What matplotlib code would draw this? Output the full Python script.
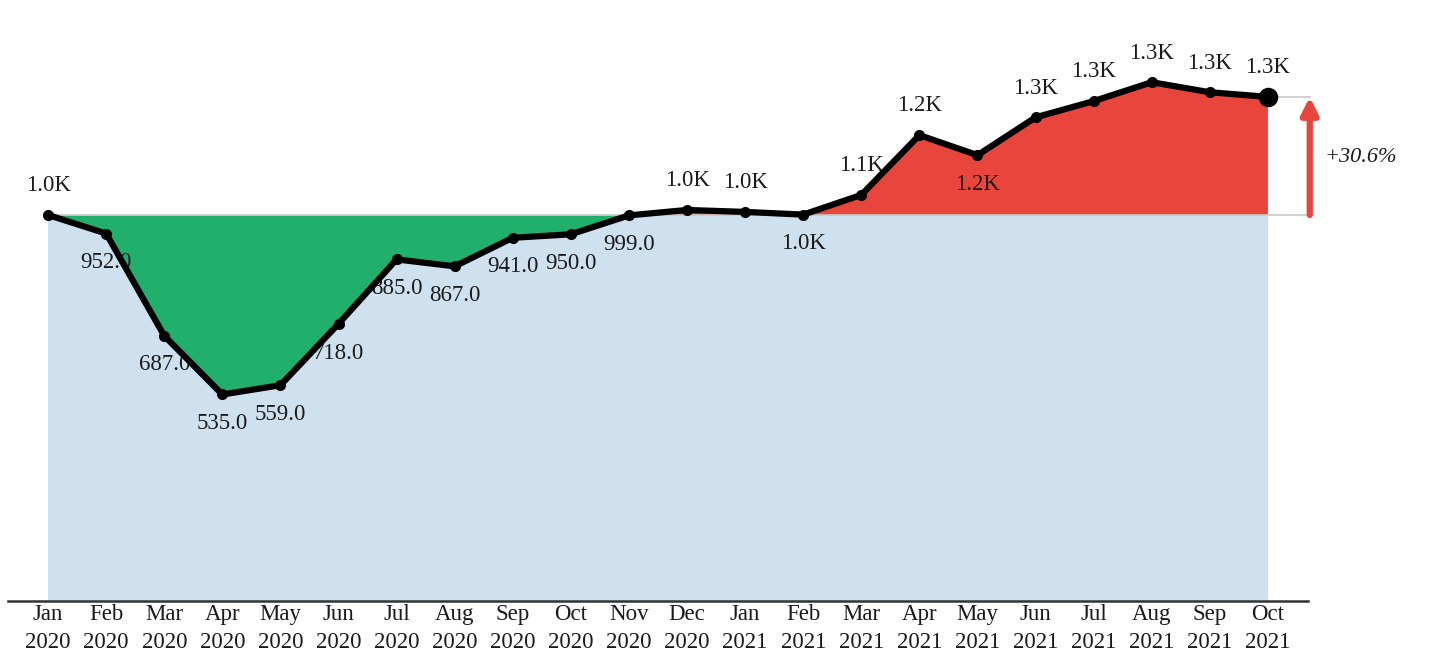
import matplotlib.pyplot as plt
import numpy as np

plt.rcParams['font.family'] = ['Liberation Serif', 'DejaVu Serif']

months = ["Jan", "Feb", "Mar", "Apr", "May", "Jun", "Jul", "Aug", "Sep", "Oct", "Nov", "Dec",
          "Jan", "Feb", "Mar", "Apr", "May", "Jun", "Jul", "Aug", "Sep", "Oct"]
years = ["2020"] * 12 + ["2021"] * 10
values = [1000, 952, 687, 535, 559, 718, 885, 867, 941, 950, 999, 1013,
          1008, 1001, 1052, 1207, 1155, 1253, 1295, 1344, 1318, 1306]
baseline = values[0]

# which labels sit under their point
label_below = {1, 2, 3, 4, 5, 6, 7, 8, 9, 10, 13, 16}


def fmt(v):
    if v >= 1000:
        return f"{v / 1000:.1f}K"
    return f"{v:.1f}"


x = np.arange(len(values))
y = np.array(values, dtype=float)

fig = plt.figure(figsize=(14.32, 6.55), dpi=100)
ax = fig.add_axes([8 / 1432, 1 - 601 / 655, 1300 / 1432, 601 / 655])

ax.fill_between(x, 0, baseline, color="#cfe0ee", lw=0, zorder=1)
ax.fill_between(x, y, baseline, where=y <= baseline, interpolate=True, color="#21b06c", lw=0, zorder=2)
ax.fill_between(x, y, baseline, where=y >= baseline, interpolate=True, color="#e8463c", lw=0, zorder=2)
ax.plot([0, 21.72], [baseline, baseline], color="#c8c8c8", lw=1.2, zorder=2.5, clip_on=False)

for i, v in enumerate(values):
    if i in label_below:
        ax.annotate(fmt(v), (i, v), xytext=(0, -21), textcoords="offset points",
                    ha="center", va="center", fontsize=16.5, color="#1a1a1a", zorder=3)
    else:
        ax.annotate(fmt(v), (i, v), xytext=(0, 21), textcoords="offset points",
                    ha="center", va="center", fontsize=16.5, color="#1a1a1a", zorder=3)

ax.plot(x, y, color="black", lw=4.5, marker="o", ms=7, zorder=4, solid_capstyle="round")
ax.plot(x[-1], y[-1], "o", color="black", ms=13, zorder=5)

# change arrow on the right
ax.plot([21, 21.72], [values[-1], values[-1]], color="#c8c8c8", lw=1.2, zorder=2.5, clip_on=False)
ax.annotate("", xy=(21.72, values[-1]), xytext=(21.72, baseline),
            arrowprops=dict(arrowstyle="-|>,head_width=0.5,head_length=1.0", color="#e8463c",
                            lw=4.5, shrinkA=0, shrinkB=0), annotation_clip=False, zorder=3)
pct = (values[-1] - baseline) / baseline * 100
ax.text(21.97, (values[-1] + baseline) / 2 - 5, f"+{pct:.1f}%", ha="left", va="center",
        fontsize=16, style="italic", color="#1a1a1a", clip_on=False)

ax.set_xlim(-0.69, 21.69)
ax.set_ylim(0, 1557)
ax.set_xticks(x)
ax.set_xticklabels([f"{m}\n{yr}" for m, yr in zip(months, years)], fontsize=16.5, color="#1a1a1a",
                   linespacing=1.45)
ax.tick_params(axis="x", length=0, pad=2)
ax.set_yticks([])
for s in ["top", "right", "left"]:
    ax.spines[s].set_visible(False)
ax.spines["bottom"].set_color("#333333")
ax.spines["bottom"].set_linewidth(1.8)

fig.savefig("out.png", dpi=100)
